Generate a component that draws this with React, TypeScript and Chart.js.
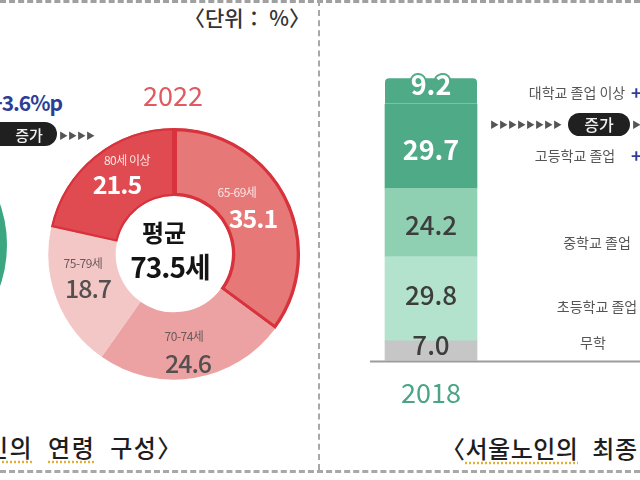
import React, { useEffect, useRef } from "react";
import { Chart, registerables } from "chart.js";

Chart.register(...registerables);

const FONT = '"Noto Sans CJK KR", "Noto Sans", sans-serif';

// ---- 2022 age composition (doughnut) ----
const ageYear = "2022";
const ageLabels = ["65-69세", "70-74세", "75-79세", "80세 이상"];
const ageValues = [35.1, 24.6, 18.7, 21.5];
const ageColors = ["#e67878", "#eca2a2", "#f4c7c7", "#e04b51"];
const ageBorderColors = ["#d8333d", "#eca2a2", "#f4c7c7", "#d8333d"];
const ageBorderWidths = [3, 0, 0, 2];
const ageAverage = "73.5세";

// ---- 2018 age composition (only its edge is visible) ----
const prevLabels = ["2018"];
const prevValues = [100];

// ---- 2018 education (stacked bar) ----
const eduYear = ["2018"];
const eduLabels = ["무학", "초등학교 졸업", "중학교 졸업", "고등학교 졸업", "대학교 졸업 이상"];
const eduValues = [7.0, 29.8, 24.2, 29.7, 9.2];
const eduColors = ["#c6c6c6", "#b3e2cd", "#8fcfb2", "#4eaa87", "#4eaa87"];

// layout / style constants for text overlays
const ageLabelPos = [
  { nx: 237, ny: 192, vx: 253, vy: 217, light: true },
  { nx: 184, ny: 336, vx: 188, vy: 362, light: false },
  { nx: 83, ny: 263, vx: 88, vy: 287, light: false },
  { nx: 127, ny: 160, vx: 117, vy: 183, light: true },
];
const eduRightPos = [
  { x: 593, y: 342 },
  { x: 597, y: 306 },
  { x: 597, y: 242 },
  { x: 575, y: 155 },
  { x: 577, y: 92 },
];
const eduTextShift = [-6, -4, 3, 3, -7];

function Txt(props: {
  x: number;
  y: number;
  anchor?: "center" | "left" | "right";
  style?: React.CSSProperties;
  children: React.ReactNode;
}) {
  const a = props.anchor || "center";
  const tx = a === "center" ? "-50%" : a === "right" ? "-100%" : "0";
  return (
    <div
      style={{
        position: "absolute",
        left: props.x,
        top: props.y,
        transform: `translate(${tx},-50%)`,
        whiteSpace: "nowrap",
        lineHeight: 1,
        fontFamily: FONT,
        ...props.style,
      }}
    >
      {props.children}
    </div>
  );
}

const barLabelPlugin = {
  id: "barLabels",
  afterDatasetsDraw(chart: any) {
    const ctx = chart.ctx;
    ctx.save();
    ctx.textAlign = "center";
    ctx.textBaseline = "middle";
    chart.data.datasets.forEach((ds: any, i: number) => {
      const el = chart.getDatasetMeta(i).data[0];
      if (!el) return;
      const cy = (el.y + el.base) / 2 + eduTextShift[i];
      const txt = Number(ds.data[0]).toFixed(1);
      const dark = i >= 3;
      ctx.font = `${dark ? "bold " : "500 "}${dark ? 27 : 26}px ${FONT}`;
      if (i === 4) {
        ctx.lineWidth = 4;
        ctx.strokeStyle = "#4eaa87";
        ctx.lineJoin = "round";
        ctx.strokeText(txt, el.x, cy);
      }
      ctx.fillStyle = dark ? "#ffffff" : "#3d3d3d";
      ctx.fillText(txt, el.x, cy);
    });
    ctx.restore();
  },
};

const baselinePlugin = {
  id: "baseline",
  afterDraw(chart: any) {
    const ctx = chart.ctx;
    const y = chart.scales.y.getPixelForValue(0);
    ctx.save();
    ctx.strokeStyle = "#9c9c9c";
    ctx.lineWidth = 2;
    ctx.beginPath();
    ctx.moveTo(chart.chartArea.left, y + 1);
    ctx.lineTo(chart.width, y + 1);
    ctx.stroke();
    ctx.restore();
  },
};

export default function App() {
  const donutRef = useRef<HTMLCanvasElement>(null);
  const prevRef = useRef<HTMLCanvasElement>(null);
  const barRef = useRef<HTMLCanvasElement>(null);

  useEffect(() => {
    const charts: Chart[] = [];
    if (donutRef.current) {
      charts.push(
        new Chart(donutRef.current, {
          type: "doughnut",
          data: {
            labels: ageLabels,
            datasets: [
              {
                data: ageValues,
                backgroundColor: ageColors,
                borderColor: ageBorderColors,
                borderWidth: ageBorderWidths,
                borderAlign: "inner",
              } as any,
            ],
          },
          options: {
            responsive: false,
            animation: false,
            cutout: "46%",
            events: [],
            layout: { padding: 0 },
            plugins: { legend: { display: false }, tooltip: { enabled: false } },
          },
        })
      );
    }
    if (prevRef.current) {
      charts.push(
        new Chart(prevRef.current, {
          type: "doughnut",
          data: {
            labels: prevLabels,
            datasets: [{ data: prevValues, backgroundColor: ["#3ba67f"], borderWidth: 0 }],
          },
          options: {
            responsive: false,
            animation: false,
            cutout: "55%",
            events: [],
            plugins: { legend: { display: false }, tooltip: { enabled: false } },
          },
        })
      );
    }
    if (barRef.current) {
      charts.push(
        new Chart(barRef.current, {
          type: "bar",
          data: {
            labels: eduYear,
            datasets: eduLabels.map((l, i) => ({
              label: l,
              data: [eduValues[i]],
              backgroundColor: eduColors[i],
              barThickness: 92,
              borderRadius: i === 4 ? { topLeft: 4, topRight: 4, bottomLeft: 0, bottomRight: 0 } : 0,
              borderSkipped: false,
              borderWidth: i === 4 ? { top: 0, left: 0, right: 0, bottom: 1 } : 0,
              borderColor: "#a8dcc6",
            })) as any,
          },
          options: {
            responsive: false,
            animation: false,
            events: [],
            layout: { padding: { top: 18, right: 148, left: 0, bottom: 0 } },
            plugins: { legend: { display: false }, tooltip: { enabled: false } },
            scales: {
              x: {
                stacked: true,
                grid: { display: false, drawTicks: false },
                border: { display: false },
                ticks: { color: "#4aa585", font: { family: FONT, size: 27 }, padding: 16 },
              },
              y: { stacked: true, display: false, min: 0, max: 100 },
            },
          },
          plugins: [barLabelPlugin, baselinePlugin],
        })
      );
    }
    return () => charts.forEach((c) => c.destroy());
  }, []);

  const arrow = (n: number) => "▶".repeat(n);
  const pill: React.CSSProperties = {
    position: "absolute",
    background: "#202020",
    borderRadius: 12,
  };
  const ul: React.CSSProperties = {
    textDecoration: "underline dotted #e0b030",
    textUnderlineOffset: 4,
  };

  return (
    <div
      style={{
        position: "fixed",
        left: 0,
        top: 0,
        width: 640,
        height: 480,
        overflow: "hidden",
        background: "#ffffff",
        fontFamily: FONT,
      }}
    >
      {/* dashed frame */}
      <div style={{ position: "absolute", left: 0, top: 0, width: 640, borderTop: "3px dashed #a0a0a0" }} />
      <div style={{ position: "absolute", left: 0, top: 470, width: 640, borderTop: "3px dashed #a8a8a8" }} />
      <div style={{ position: "absolute", left: 318, top: 0, height: 470, borderLeft: "2px dashed #a8a8a8" }} />

      {/* charts */}
      <canvas ref={prevRef} width={254} height={254} style={{ position: "absolute", left: -247, top: 118 }} />
      <canvas ref={donutRef} width={252} height={252} style={{ position: "absolute", left: 48, top: 128 }} />
      <canvas ref={barRef} width={270} height={365} style={{ position: "absolute", left: 370, top: 60 }} />

      {/* unit */}
      <Txt x={247} y={17} style={{ fontSize: 21, color: "#333", fontWeight: 500 }}>〈단위： %〉</Txt>

      {/* left increase marker */}
      <Txt x={62} y={102} anchor="right" style={{ fontSize: 21, fontWeight: 700, color: "#2c3e94", letterSpacing: -1 }}>+3.6%p</Txt>
      <div style={{ ...pill, left: -14, top: 122, width: 71, height: 24 }} />
      <Txt x={29} y={134} style={{ fontSize: 15, color: "#f0f0f0", fontWeight: 500 }}>증가</Txt>
      <Txt x={59} y={135} anchor="left" style={{ fontSize: 9, color: "#555" }}>{arrow(4)}</Txt>

      {/* doughnut texts */}
      <Txt x={173} y={94} style={{ fontSize: 27, color: "#e05a60" }}>{ageYear}</Txt>
      {ageLabels.map((l, i) => {
        const p = ageLabelPos[i];
        return (
          <React.Fragment key={l}>
            <Txt x={p.nx} y={p.ny} style={{ fontSize: 12, color: p.light ? "#fbe4e4" : "#6a5a5a", letterSpacing: -0.5 }}>{l}</Txt>
            <Txt
              x={p.vx}
              y={p.vy}
              style={{
                fontSize: 25,
                fontWeight: p.light ? 700 : 500,
                color: p.light ? "#ffffff" : "#555050",
                letterSpacing: -1,
              }}
            >
              {ageValues[i].toFixed(1)}
            </Txt>
          </React.Fragment>
        );
      })}
      <Txt x={164} y={232} style={{ fontSize: 24, fontWeight: 700, color: "#141414" }}>평균</Txt>
      <Txt x={170} y={266} style={{ fontSize: 28, fontWeight: 700, color: "#141414", letterSpacing: -1 }}>{ageAverage}</Txt>

      {/* right side labels */}
      {eduLabels.map((l, i) => (
        <Txt key={l} x={eduRightPos[i].x} y={eduRightPos[i].y} style={{ fontSize: 14, color: "#555" }}>{l}</Txt>
      ))}
      <Txt x={631} y={92} anchor="left" style={{ fontSize: 18, fontWeight: 700, color: "#2c3e94" }}>+</Txt>
      <Txt x={631} y={155} anchor="left" style={{ fontSize: 18, fontWeight: 700, color: "#2c3e94" }}>+</Txt>
      <Txt x={490} y={124} anchor="left" style={{ fontSize: 9, color: "#555" }}>{arrow(8)}</Txt>
      <div style={{ ...pill, left: 568, top: 113, width: 62, height: 23 }} />
      <Txt x={599} y={124} style={{ fontSize: 16, color: "#f0f0f0", fontWeight: 500 }}>증가</Txt>
      <Txt x={632} y={124} anchor="left" style={{ fontSize: 9, color: "#555" }}>{arrow(1)}</Txt>

      {/* captions */}
      <Txt x={-14} y={447} anchor="left" style={{ fontSize: 24, fontWeight: 500, color: "#1e1e1e", wordSpacing: 8, letterSpacing: 1.5 }}>
        <span style={ul}>인의</span> <span style={ul}>연령</span> 구성〉
      </Txt>
      <Txt x={441} y={448} anchor="left" style={{ fontSize: 24, fontWeight: 500, color: "#1e1e1e", wordSpacing: 8, letterSpacing: 0.5 }}>
        〈<span style={ul}>서울노인의</span> 최종
      </Txt>
    </div>
  );
}
